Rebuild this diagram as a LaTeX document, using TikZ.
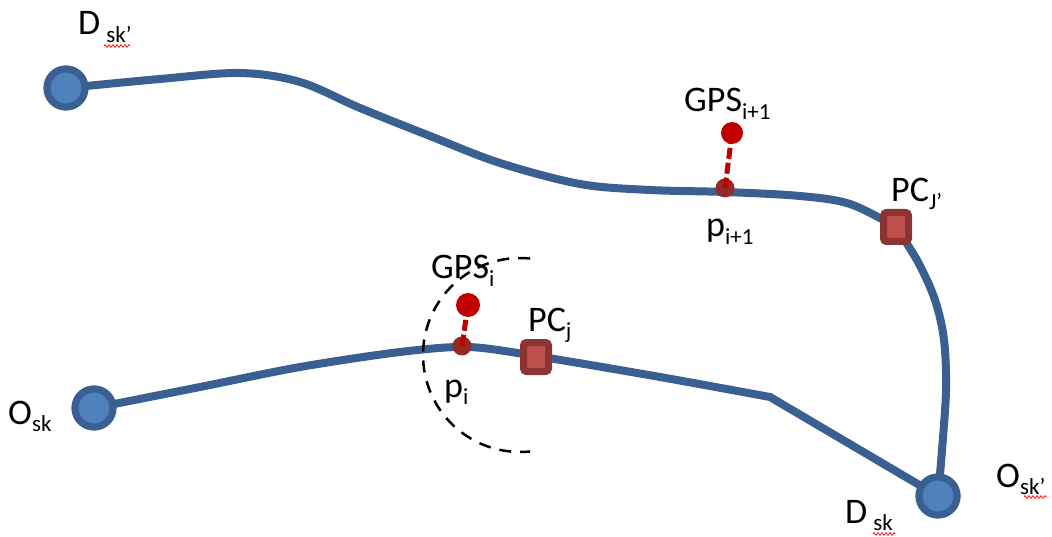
\documentclass[tikz,border=0pt]{standalone}
\usepackage{fontspec}
\setmainfont{Carlito}
\usetikzlibrary{decorations.pathmorphing}
\definecolor{routeblue}{RGB}{58,96,145}
\definecolor{endfill}{RGB}{79,129,189}
\definecolor{pcborder}{RGB}{140,52,52}
\definecolor{pcfill}{RGB}{192,80,77}
\definecolor{gpsred}{RGB}{192,0,0}
\definecolor{matchred}{RGB}{150,40,40}
\newcommand\subtxt[1]{\raisebox{-0.22em}{\fontsize{23}{23}\selectfont #1}}
\tikzset{
  route/.style={draw=routeblue, line width=8pt, line cap=round, line join=miter},
  endpt/.style={circle, draw=routeblue, fill=endfill, line width=7pt, minimum size=38pt, inner sep=0pt},
  pcbox/.style={rectangle, rounded corners=3pt, draw=pcborder, fill=pcfill, line width=7pt, minimum width=25pt, minimum height=29pt, inner sep=0pt},
  gpsdot/.style={circle, fill=gpsred, minimum size=22pt, inner sep=0pt},
  matchdot/.style={circle, fill=matchred, minimum size=19pt, inner sep=0pt},
  gpsline/.style={draw=gpsred, line width=5pt, dash pattern=on 11pt off 4pt},
  rangearc/.style={draw=black, line width=2.5pt, dash pattern=on 12pt off 9pt},
  lbl/.style={inner sep=0pt, anchor=base west, font=\fontsize{36}{38}\selectfont},
  squig/.style={draw=red!85, line width=0.9pt, decorate, decoration={zigzag, amplitude=1.3pt, segment length=4pt}}
}
\begin{document}
\begin{tikzpicture}[x=1pt,y=-1pt]
\useasboundingbox (0,0) rectangle (1052,537);
% end points
\node[endpt] (Dskp) at (66,88) {};
\node[endpt] (Osk) at (94,408) {};
\node[endpt] (DO) at (938,496) {};
\coordinate (corner) at (770,397);
% routes
\draw[route] plot[smooth, tension=0.55] coordinates {(Dskp.center) (160,79) (240,73) (300,82) (360,108) (430,136) (500,163) (580,184) (650,190) (725,192) (800,196) (850,204) (896,227)}
  plot[smooth, tension=0.55] coordinates {(896,227) (918,262) (935,300) (944,340) (946,390) (942,450) (DO.center)};
\draw[route] plot[smooth, tension=0.5] coordinates {(Osk.center) (200,387) (300,367) (400,352) (468,347) (536,356) (660,377) (corner)} -- (DO.center);
% endpoints on top of the routes
\node[endpt] at (Dskp) {};
\node[endpt] at (Osk) {};
\node[endpt] at (DO) {};
% PC boxes
\node[pcbox] (PCjp) at (896,227) {};
\node[pcbox] (PCj) at (536,357) {};
% GPS points and matched points
\node[matchdot] (pip) at (725,188) {};
\node[gpsdot] (gpsip) at (732,133) {};
\draw[gpsline] (gpsip.center) -- (pip.center);
\node[matchdot] (pi) at (462,346) {};
\node[gpsdot, minimum width=20pt, minimum height=24pt] (gpsi) at (468,305) {};
\draw[gpsline] (gpsi.center) -- (pi.center);
% range arc
\draw[rangearc] plot[domain=84:276, samples=60] ({520+97*cos(\x)},{355-97*sin(\x)});
% labels
\node[lbl] (lDskp) at (78,35) {D\,\subtxt{sk’}};
\node[lbl] (lOsk) at (8,424) {O\subtxt{sk}};
\node[lbl] (lDsk) at (845,523) {D\,\subtxt{sk}};
\node[lbl] (lOskp) at (996,487) {O\subtxt{sk’}};
\node[lbl] (lgpsip) at (684,112) {GPS\subtxt{i+1}};
\node[lbl] (lpip) at (706,237) {p\subtxt{i+1}};
\node[lbl] (lPCjp) at (891,202) {PC\subtxt{J’}};
\node[lbl] (lgpsi) at (431,279) {GPS\subtxt{i}};
\node[lbl] (lPCj) at (528,331) {PC\subtxt{j}};
\node[lbl] (lpi) at (444,397) {p\subtxt{i}};
% spell-check squiggles
\draw[squig] (104,46) -- (130,46);
\draw[squig] (873,534) -- (895,534);
\draw[squig] (1024,497) -- (1047,497);
\end{tikzpicture}
\end{document}
